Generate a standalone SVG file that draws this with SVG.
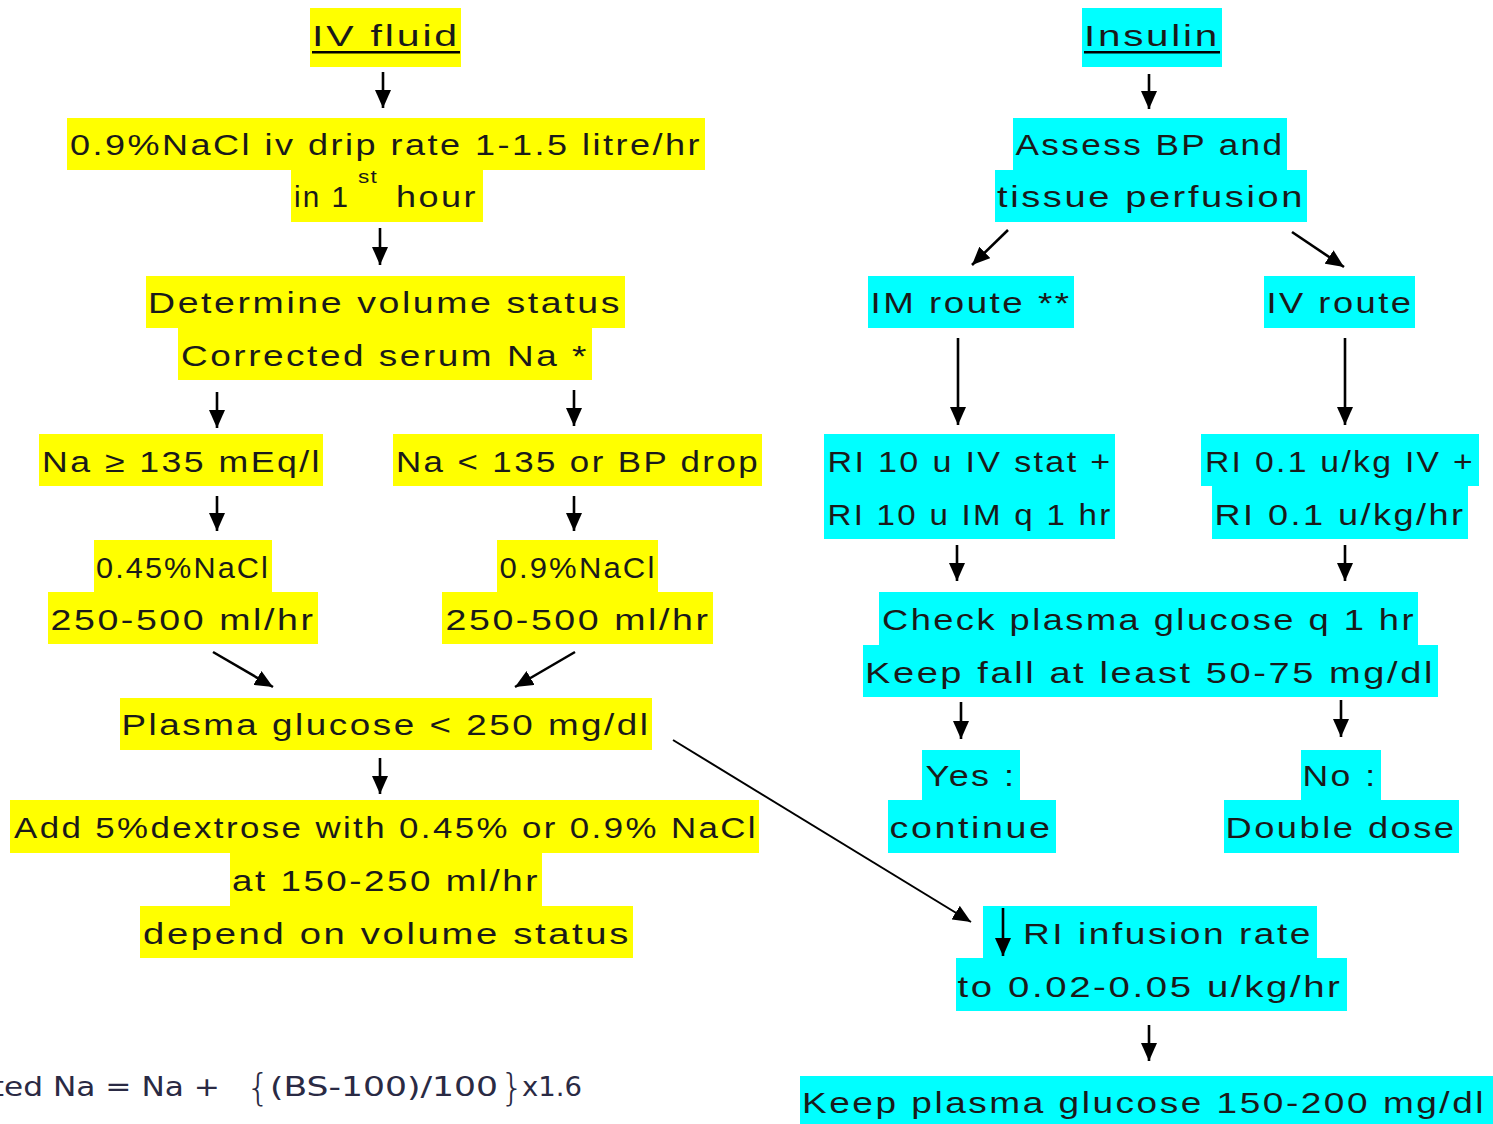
<svg xmlns="http://www.w3.org/2000/svg" width="1493" height="1124" viewBox="0 0 1493 1124">
<defs>
<marker id="ah" viewBox="0 0 18 16" refX="18" refY="8" markerWidth="18" markerHeight="16" markerUnits="userSpaceOnUse" orient="auto"><path d="M0,0 L18,8 L0,16 z" fill="#000"/></marker>
<style>
.y{fill:#FFFF00}
.c{fill:#00FFFF}
.t{font-family:"Liberation Sans",Arial,sans-serif;font-size:29px;letter-spacing:2px;fill:#1a1a1a;text-anchor:middle}
.a{stroke:#000;stroke-width:2.6;fill:none;marker-end:url(#ah)}
.f{font-family:"DejaVu Sans",Verdana,sans-serif;fill:#2a2a44}
</style>
</defs>
<rect width="1493" height="1124" fill="#fff"/>

<g id="iv-fluid">
<rect class="y" x="310" y="8" width="151" height="59"/>
<text class="t" x="386" y="46" textLength="148" lengthAdjust="spacingAndGlyphs">IV fluid</text>
<rect x="312" y="51" width="148" height="2.5" fill="#000"/>
</g>
<g id="nacl-drip">
<rect class="y" x="67" y="118" width="638" height="52"/>
<rect class="y" x="291" y="170" width="192" height="52"/>
<text class="t" x="386" y="155" textLength="632" lengthAdjust="spacingAndGlyphs">0.9%NaCl iv drip rate 1-1.5 litre/hr</text>
<text class="t" x="322" y="207" textLength="56" lengthAdjust="spacingAndGlyphs">in 1</text>
<text class="t" x="368" y="183" style="font-size:18px;letter-spacing:1px" textLength="20" lengthAdjust="spacingAndGlyphs">st</text>
<text class="t" x="437" y="207" textLength="82" lengthAdjust="spacingAndGlyphs">hour</text>
</g>
<g id="volume-status">
<rect class="y" x="146" y="276" width="479" height="52"/>
<rect class="y" x="178" y="328" width="414" height="52"/>
<text class="t" x="385" y="313" textLength="474" lengthAdjust="spacingAndGlyphs">Determine volume status</text>
<text class="t" x="385" y="366" textLength="408" lengthAdjust="spacingAndGlyphs">Corrected serum Na *</text>
</g>
<g id="na-high">
<rect class="y" x="39" y="434" width="284" height="52"/>
<text class="t" x="182" y="472" textLength="280" lengthAdjust="spacingAndGlyphs">Na ≥ 135 mEq/l</text>
</g>
<g id="na-low">
<rect class="y" x="393" y="434" width="369" height="52"/>
<text class="t" x="578" y="472" textLength="364" lengthAdjust="spacingAndGlyphs">Na &lt; 135 or BP drop</text>
</g>
<g id="half-saline">
<rect class="y" x="94" y="540" width="178" height="52"/>
<rect class="y" x="48" y="592" width="270" height="52"/>
<text class="t" x="183" y="578" textLength="174" lengthAdjust="spacingAndGlyphs">0.45%NaCl</text>
<text class="t" x="183" y="630" textLength="265" lengthAdjust="spacingAndGlyphs">250-500 ml/hr</text>
</g>
<g id="normal-saline">
<rect class="y" x="497" y="540" width="161" height="52"/>
<rect class="y" x="442" y="592" width="271" height="52"/>
<text class="t" x="578" y="578" textLength="157" lengthAdjust="spacingAndGlyphs">0.9%NaCl</text>
<text class="t" x="578" y="630" textLength="265" lengthAdjust="spacingAndGlyphs">250-500 ml/hr</text>
</g>
<g id="plasma-250">
<rect class="y" x="120" y="698" width="532" height="52"/>
<text class="t" x="386" y="735" textLength="529" lengthAdjust="spacingAndGlyphs">Plasma glucose &lt; 250 mg/dl</text>
</g>
<g id="dextrose">
<rect class="y" x="10" y="800" width="749" height="53"/>
<rect class="y" x="230" y="853" width="312" height="53"/>
<rect class="y" x="140" y="906" width="493" height="52"/>
<text class="t" x="386" y="838" textLength="744" lengthAdjust="spacingAndGlyphs">Add 5%dextrose with 0.45% or 0.9% NaCl</text>
<text class="t" x="386" y="891" textLength="308" lengthAdjust="spacingAndGlyphs">at 150-250 ml/hr</text>
<text class="t" x="387" y="944" textLength="488" lengthAdjust="spacingAndGlyphs">depend on volume status</text>
</g>
<g id="formula">
<text class="f" x="-110" y="1096" style="font-size:27px" textLength="330" lengthAdjust="spacingAndGlyphs">Corrected Na = Na +</text>
<text class="f" y="1096" style="font-size:26px"><tspan x="246" y="1100" style="font-size:38px;font-weight:200">{</tspan><tspan x="270" y="1096" textLength="228" lengthAdjust="spacingAndGlyphs">(BS-100)/100</tspan><tspan x="500" y="1100" style="font-size:38px;font-weight:200">}</tspan><tspan x="522" y="1096" textLength="60" lengthAdjust="spacingAndGlyphs">x1.6</tspan></text>
</g>

<g id="insulin">
<rect class="c" x="1082" y="8" width="140" height="59"/>
<text class="t" x="1152" y="46" textLength="136" lengthAdjust="spacingAndGlyphs">Insulin</text>
<rect x="1084" y="51" width="136" height="2.5" fill="#000"/>
</g>
<g id="assess-bp">
<rect class="c" x="1013" y="118" width="274" height="52"/>
<rect class="c" x="995" y="170" width="312" height="52"/>
<text class="t" x="1150" y="155" textLength="269" lengthAdjust="spacingAndGlyphs">Assess BP and</text>
<text class="t" x="1151" y="207" textLength="308" lengthAdjust="spacingAndGlyphs">tissue perfusion</text>
</g>
<g id="im-route">
<rect class="c" x="868" y="276" width="206" height="52"/>
<text class="t" x="971" y="313" textLength="201" lengthAdjust="spacingAndGlyphs">IM route **</text>
</g>
<g id="iv-route">
<rect class="c" x="1264" y="276" width="151" height="52"/>
<text class="t" x="1340" y="313" textLength="147" lengthAdjust="spacingAndGlyphs">IV route</text>
</g>
<g id="ri-10u">
<rect class="c" x="824" y="434" width="291" height="105"/>
<text class="t" x="970" y="472" textLength="285" lengthAdjust="spacingAndGlyphs">RI 10 u IV stat +</text>
<text class="t" x="970" y="525" textLength="285" lengthAdjust="spacingAndGlyphs">RI 10 u IM q 1 hr</text>
</g>
<g id="ri-01">
<rect class="c" x="1201" y="434" width="278" height="52"/>
<rect class="c" x="1212" y="486" width="256" height="53"/>
<text class="t" x="1340" y="472" textLength="270" lengthAdjust="spacingAndGlyphs">RI 0.1 u/kg IV +</text>
<text class="t" x="1340" y="525" textLength="251" lengthAdjust="spacingAndGlyphs">RI 0.1 u/kg/hr</text>
</g>
<g id="check-glucose">
<rect class="c" x="879" y="592" width="539" height="53"/>
<rect class="c" x="863" y="645" width="575" height="52"/>
<text class="t" x="1149" y="630" textLength="534" lengthAdjust="spacingAndGlyphs">Check plasma glucose q 1 hr</text>
<text class="t" x="1150" y="683" textLength="570" lengthAdjust="spacingAndGlyphs">Keep fall at least 50-75 mg/dl</text>
</g>
<g id="yes">
<rect class="c" x="922" y="750" width="98" height="50"/>
<rect class="c" x="888" y="800" width="168" height="53"/>
<text class="t" x="971" y="786" textLength="91" lengthAdjust="spacingAndGlyphs">Yes :</text>
<text class="t" x="971" y="838" textLength="163" lengthAdjust="spacingAndGlyphs">continue</text>
</g>
<g id="no">
<rect class="c" x="1301" y="750" width="80" height="50"/>
<rect class="c" x="1224" y="800" width="235" height="53"/>
<text class="t" x="1340" y="786" textLength="75" lengthAdjust="spacingAndGlyphs">No :</text>
<text class="t" x="1341" y="838" textLength="231" lengthAdjust="spacingAndGlyphs">Double dose</text>
</g>
<g id="reduce-infusion">
<rect class="c" x="983" y="906" width="334" height="52"/>
<rect class="c" x="956" y="958" width="391" height="53"/>
<line x1="1003" y1="908" x2="1003" y2="956" stroke="#000" stroke-width="2.6" marker-end="url(#ah)"/>
<text class="t" x="1168" y="944" textLength="290" lengthAdjust="spacingAndGlyphs">RI infusion rate</text>
<text class="t" x="1150" y="997" textLength="385" lengthAdjust="spacingAndGlyphs">to 0.02-0.05 u/kg/hr</text>
</g>
<g id="keep-glucose">
<rect class="c" x="800" y="1076" width="693" height="48"/>
<text class="t" x="1144" y="1113" textLength="684" lengthAdjust="spacingAndGlyphs">Keep plasma glucose 150-200 mg/dl</text>
</g>

<g id="connectors">
<line class="a" x1="383" y1="72" x2="383" y2="108"/>
<line class="a" x1="380" y1="228" x2="380" y2="265"/>
<line class="a" x1="217" y1="392" x2="217" y2="428"/>
<line class="a" x1="574" y1="390" x2="574" y2="426"/>
<line class="a" x1="217" y1="496" x2="217" y2="531"/>
<line class="a" x1="574" y1="496" x2="574" y2="531"/>
<line class="a" x1="213" y1="652" x2="273" y2="687"/>
<line class="a" x1="575" y1="652" x2="515" y2="687"/>
<line class="a" x1="380" y1="758" x2="380" y2="794"/>
<line class="a" x1="673" y1="740" x2="971" y2="922" style="stroke-width:2"/>
<line class="a" x1="1149" y1="74" x2="1149" y2="109"/>
<line class="a" x1="1008" y1="230" x2="972" y2="265"/>
<line class="a" x1="1292" y1="232" x2="1344" y2="267"/>
<line class="a" x1="958" y1="338" x2="958" y2="425"/>
<line class="a" x1="1345" y1="338" x2="1345" y2="425"/>
<line class="a" x1="957" y1="545" x2="957" y2="581"/>
<line class="a" x1="1345" y1="545" x2="1345" y2="581"/>
<line class="a" x1="961" y1="702" x2="961" y2="739"/>
<line class="a" x1="1341" y1="700" x2="1341" y2="737"/>
<line class="a" x1="1149" y1="1025" x2="1149" y2="1061"/>
</g>
</svg>
